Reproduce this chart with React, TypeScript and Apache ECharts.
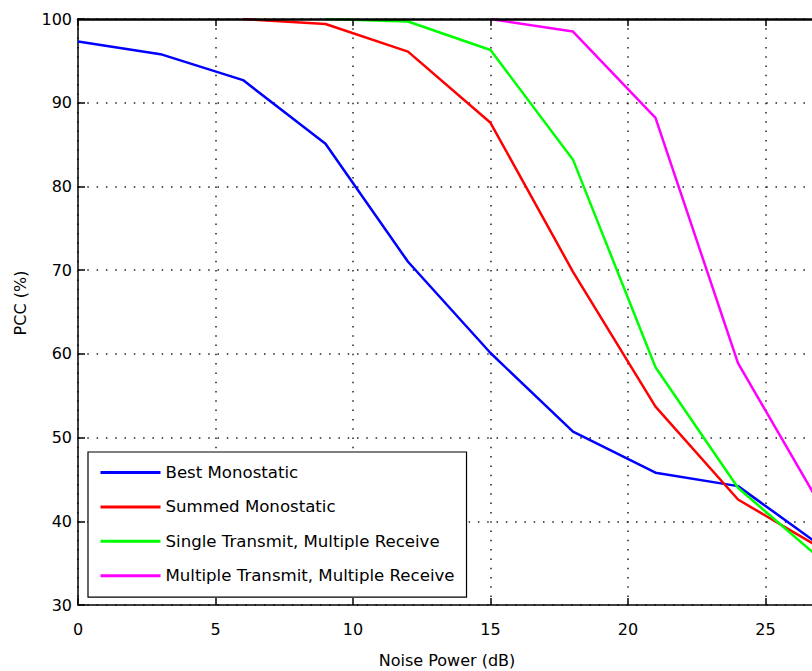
import React, { useEffect, useRef } from "react";
import * as echarts from "echarts";

// Noise power steps (dB)
const noisePower = [0, 3, 6, 9, 12, 15, 18, 21, 24, 27];

// PCC (%) per configuration; null where the curve has not left 100 %
const bestMonostatic = [97.3, 95.8, 92.7, 85.1, 71.0, 60.1, 50.7, 45.8, 44.2, 37.1];
const summedMonostatic = [null, null, 100, 99.4, 96.1, 87.6, 69.8, 53.7, 42.6, 36.8];
const singleTxMultiRx = [null, null, null, 100, 99.7, 96.3, 83.2, 58.4, 44.0, 35.5];
const multiTxMultiRx = [null, null, null, null, null, 100, 98.5, 88.2, 58.9, 41.9];

const seriesNames = [
  "Best Monostatic",
  "Summed Monostatic",
  "Single Transmit, Multiple Receive",
  "Multiple Transmit, Multiple Receive",
];
const seriesColors = ["#0000ff", "#ff0000", "#00ff00", "#ff00ff"];
const seriesValues = [bestMonostatic, summedMonostatic, singleTxMultiRx, multiTxMultiRx];

const xTicks = { min: 0, max: 30, step: 5 };
const yTicks = { min: 30, max: 100, step: 10 };

const FONT = "DejaVu Sans";

export default function App() {
  const ref = useRef<HTMLDivElement>(null);

  useEffect(() => {
    if (!ref.current) return;
    const chart = echarts.init(ref.current, undefined, { renderer: "svg" });

    const dotted = { color: "#222", width: 1.5, type: [1.5, 7.8] as number[] };

    chart.setOption({
      animation: false,
      backgroundColor: "#fff",
      textStyle: { fontFamily: FONT },
      // the axes box runs past the right edge of the canvas
      grid: { left: 78, top: 19, width: 825, height: 586, outerBoundsMode: "none", containLabel: false },
      legend: {
        orient: "vertical",
        left: 88,
        top: 452,
        itemWidth: 60,
        itemHeight: 14,
        itemGap: 17.4,
        padding: [12, 12, 13, 11],
        borderColor: "#000",
        borderWidth: 1.2,
        backgroundColor: "#fff",
        itemStyle: { opacity: 0 },
        lineStyle: { width: 3 },
        textStyle: { fontSize: 16.6, color: "#000", fontFamily: FONT },
        data: seriesNames,
      },
      xAxis: [
        {
          type: "value",
          position: "bottom",
          min: xTicks.min,
          max: xTicks.max,
          interval: xTicks.step,
          axisLine: { show: true, onZero: false, lineStyle: { color: "#000", width: 1.5 } },
          axisTick: { show: true, inside: true, length: 7, lineStyle: { color: "#000", width: 1.5 } },
          axisLabel: { margin: 16, color: "#000", fontSize: 16, fontFamily: FONT, showMaxLabel: false },
          splitLine: { show: true, lineStyle: dotted },
        },
        {
          type: "value",
          position: "top",
          z: 5,
          min: xTicks.min,
          max: xTicks.max,
          interval: xTicks.step,
          axisLine: { show: true, onZero: false, lineStyle: { color: "#000", width: 2.5 } },
          axisTick: { show: true, inside: true, length: 7, lineStyle: { color: "#000", width: 1.5 } },
          axisLabel: { show: false },
          splitLine: { show: false },
        },
      ],
      yAxis: {
        type: "value",
        min: yTicks.min,
        max: yTicks.max,
        interval: yTicks.step,
        axisLine: { show: true, onZero: false, lineStyle: { color: "#000", width: 1.5 } },
        axisTick: { show: true, inside: true, length: 7, lineStyle: { color: "#000", width: 1.5 } },
        axisLabel: { margin: 6, color: "#000", fontSize: 16, fontFamily: FONT },
        splitLine: { show: true, lineStyle: dotted },
      },
      graphic: [
        {
          type: "text",
          x: 447,
          y: 660,
          style: {
            text: "Noise Power (dB)",
            fontSize: 16,
            fontFamily: FONT,
            fill: "#000",
            align: "center",
            verticalAlign: "middle",
          },
        },
        {
          type: "text",
          x: 20,
          y: 303,
          rotation: Math.PI / 2,
          style: {
            text: "PCC (%)",
            fontSize: 16,
            fontFamily: FONT,
            fill: "#000",
            align: "center",
            verticalAlign: "middle",
          },
        },
      ],
      series: seriesValues.map((values, k) => ({
        name: seriesNames[k],
        type: "line",
        xAxisIndex: 0,
        symbol: "none",
        z: 2,
        lineStyle: { color: seriesColors[k], width: 2.5 },
        itemStyle: { color: seriesColors[k] },
        data: noisePower.map((x, i) => [x, values[i]]),
      })),
    });

    return () => chart.dispose();
  }, []);

  return (
    <div
      ref={ref}
      style={{ position: "fixed", left: 0, top: 0, width: 812, height: 671 }}
    />
  );
}
